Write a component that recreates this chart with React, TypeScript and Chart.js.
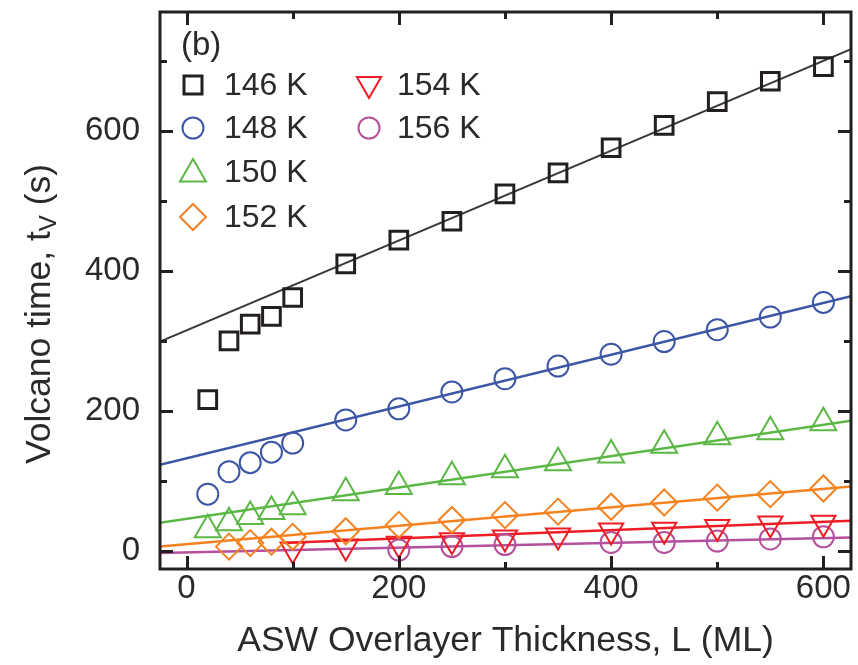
import React, { useEffect, useRef } from 'react';
import { Chart, registerables } from 'chart.js';

Chart.register(...registerables);

// ---- data ----
const thickness146 = [20, 40, 60, 80, 100, 150, 200, 250, 300, 350, 400, 450, 500, 550, 600];
const time146 = [216, 300, 324, 335, 362, 410, 444, 471, 510, 540, 576, 608, 642, 671, 692];

const thickness148 = [20, 40, 60, 80, 100, 150, 200, 250, 300, 350, 400, 450, 500, 550, 600];
const time148 = [81, 113, 126, 141, 154, 187, 203, 227, 246, 264, 281, 299, 316, 334, 355];

const thickness150 = [20, 40, 60, 80, 100, 150, 200, 250, 300, 350, 400, 450, 500, 550, 600];
const time150 = [30, 40, 49, 56, 63, 83, 92, 106, 116, 126, 137, 151, 163, 170, 183];

const thickness152 = [40, 60, 80, 100, 150, 200, 250, 300, 350, 400, 450, 500, 550, 600];
const time152 = [6, 11, 13, 20, 28, 37, 44, 51, 56, 63, 69, 76, 81, 89];

const thickness154 = [100, 150, 200, 250, 300, 350, 400, 450, 500, 550, 600];
const time154 = [2, 6, 10, 15, 19, 22, 29, 30, 34, 39, 40];

const thickness156 = [200, 250, 300, 400, 450, 500, 550, 600];
const time156 = [1, 6, 9, 12, 12, 14, 17, 20];

// linear fit lines: end points
const fitX = [-25, 626];
const fitX154 = [90, 626];
const fit146 = [299, 717];
const fit148 = [123, 364];
const fit150 = [40, 186];
const fit152 = [6, 92];
const fit154 = [11, 43];
const fit156 = [-3, 19];

const seriesLabels = ['146 K', '148 K', '150 K', '152 K', '154 K', '156 K'];
const xTickValues = [0, 100, 200, 300, 400, 500, 600];
const yTickValues = [0, 100, 200, 300, 400, 500, 600, 700];

const C_BLACK = '#231f20';
const C_BLUE = '#3c55a5';
const C_GREEN = '#5cb846';
const C_ORANGE = '#f58220';
const C_RED = '#ee1d25';
const C_MAGENTA = '#b5509c';
const FONT = "'Liberation Sans', Arial, sans-serif";

const pts = (xs: number[], ys: number[]) => xs.map((x, i) => ({ x, y: ys[i] }));

function drawMarker(ctx: CanvasRenderingContext2D, kind: string, x: number, y: number, color: string, lw: number) {
  ctx.save();
  ctx.strokeStyle = color;
  ctx.lineWidth = lw;
  ctx.beginPath();
  if (kind === 'square') {
    const s = 9;
    ctx.rect(x - s, y - s, 2 * s, 2 * s);
  } else if (kind === 'circle') {
    ctx.arc(x, y, 10.5, 0, Math.PI * 2);
  } else if (kind === 'up') {
    const r = 15;
    for (let k = 0; k < 3; k++) {
      const a = (k * 2 * Math.PI) / 3;
      const px = x + Math.sin(a) * r;
      const py = y - Math.cos(a) * r;
      if (k === 0) ctx.moveTo(px, py); else ctx.lineTo(px, py);
    }
    ctx.closePath();
  } else if (kind === 'down') {
    const r = 14;
    for (let k = 0; k < 3; k++) {
      const a = Math.PI + (k * 2 * Math.PI) / 3;
      const px = x + Math.sin(a) * r;
      const py = y - Math.cos(a) * r;
      if (k === 0) ctx.moveTo(px, py); else ctx.lineTo(px, py);
    }
    ctx.closePath();
  } else if (kind === 'diamond') {
    const r = 13;
    ctx.moveTo(x, y - r);
    ctx.lineTo(x + r, y);
    ctx.lineTo(x, y + r);
    ctx.lineTo(x - r, y);
    ctx.closePath();
  }
  ctx.stroke();
  ctx.restore();
}

const decorPlugin = {
  id: 'decor',
  afterDraw(chart: any) {
    const ctx: CanvasRenderingContext2D = chart.ctx;
    const a = chart.chartArea;
    const xs = chart.scales.x;
    const ys = chart.scales.y;
    ctx.save();
    // frame
    ctx.strokeStyle = C_BLACK;
    ctx.lineWidth = 3;
    ctx.strokeRect(a.left, a.top, a.right - a.left, a.bottom - a.top);
    // inward ticks
    ctx.beginPath();
    xTickValues.forEach((v) => {
      const px = Math.round(xs.getPixelForValue(v)) + 0.5;
      const len = v % 200 === 0 ? 13 : 7;
      ctx.moveTo(px, a.bottom);
      ctx.lineTo(px, a.bottom - len);
      ctx.moveTo(px, a.top);
      ctx.lineTo(px, a.top + len);
    });
    yTickValues.forEach((v) => {
      const py = Math.round(ys.getPixelForValue(v)) + 0.5;
      const len = v % 200 === 0 ? 13 : 7;
      ctx.moveTo(a.left, py);
      ctx.lineTo(a.left + len, py);
      ctx.moveTo(a.right, py);
      ctx.lineTo(a.right - len, py);
    });
    ctx.stroke();

    // panel label
    ctx.fillStyle = '#2a2a2a';
    ctx.textBaseline = 'middle';
    ctx.textAlign = 'left';
    ctx.font = `33px ${FONT}`;
    ctx.fillText('(b)', 181, 46);

    // legend
    const col1 = { mx: 193, tx: 224 };
    const col2 = { mx: 369, tx: 397 };
    const rows = [85, 128, 172, 217];
    const entries = [
      { kind: 'square', color: C_BLACK, lw: 3, col: col1, row: 0 },
      { kind: 'circle', color: C_BLUE, lw: 2, col: col1, row: 1 },
      { kind: 'up', color: C_GREEN, lw: 2, col: col1, row: 2 },
      { kind: 'diamond', color: C_ORANGE, lw: 2, col: col1, row: 3 },
      { kind: 'down', color: C_RED, lw: 2, col: col2, row: 0 },
      { kind: 'circle', color: C_MAGENTA, lw: 2, col: col2, row: 1 },
    ];
    ctx.font = `32px ${FONT}`;
    entries.forEach((e, i) => {
      const y = rows[e.row];
      drawMarker(ctx, e.kind, e.col.mx, e.kind === 'up' ? y + 2 : e.kind === 'down' ? y - 1 : y, e.color, e.lw);
      ctx.fillStyle = '#2a2a2a';
      ctx.fillText(seriesLabels[i], e.col.tx, y + 1);
    });

    // x title
    ctx.textAlign = 'center';
    ctx.font = `35.5px ${FONT}`;
    ctx.fillText('ASW Overlayer Thickness, L (ML)', (a.left + a.right) / 2, 641);

    // y title with subscript
    ctx.translate(40, 314);
    ctx.rotate(-Math.PI / 2);
    ctx.textAlign = 'left';
    const main = 'Volcano time, t';
    const sub = 'V';
    const tail = ' (s)';
    ctx.font = `35.5px ${FONT}`;
    const wMain = ctx.measureText(main).width;
    const wTail = ctx.measureText(tail).width;
    ctx.font = `24px ${FONT}`;
    const wSub = ctx.measureText(sub).width;
    const total = wMain + wSub + wTail;
    let x0 = -total / 2;
    ctx.font = `35.5px ${FONT}`;
    ctx.fillText(main, x0, 0);
    x0 += wMain;
    ctx.font = `24px ${FONT}`;
    ctx.fillText(sub, x0, 9);
    x0 += wSub;
    ctx.font = `35.5px ${FONT}`;
    ctx.fillText(tail, x0, 0);
    ctx.restore();
  },
};

function scatterSet(label: string, xs: number[], ys: number[], color: string, style: any, radius: number, bw: number, rotation = 0) {
  return {
    label,
    data: pts(xs, ys),
    showLine: false,
    borderColor: color,
    backgroundColor: 'rgba(0,0,0,0)',
    pointStyle: style,
    pointRadius: radius,
    pointBorderWidth: bw,
    pointRotation: rotation,
    pointBorderColor: color,
    pointBackgroundColor: 'rgba(0,0,0,0)',
    order: 1,
  };
}

function fitSet(label: string, xs: number[], ys: number[], color: string, width: number) {
  return {
    label,
    data: pts(xs, ys),
    showLine: true,
    borderColor: color,
    borderWidth: width,
    pointRadius: 0,
    fill: false,
    order: 2,
  };
}

const zeroPad = (s: any) => {
  s.paddingLeft = 0;
  s.paddingRight = 0;
  s.paddingTop = 0;
  s.paddingBottom = 0;
};

export default function App() {
  const ref = useRef<HTMLCanvasElement | null>(null);
  useEffect(() => {
    if (!ref.current) return;
    const tickFont = { family: FONT, size: 33 };
    const chart = new Chart(ref.current, {
      type: 'scatter',
      data: {
        datasets: [
          fitSet('fit 146 K', fitX, fit146, '#3a3a3a', 2),
          fitSet('fit 148 K', fitX, fit148, C_BLUE, 2.5),
          fitSet('fit 150 K', fitX, fit150, C_GREEN, 2.5),
          fitSet('fit 152 K', fitX, fit152, C_ORANGE, 2.5),
          fitSet('fit 154 K', fitX154, fit154, C_RED, 2.5),
          fitSet('fit 156 K', fitX, fit156, C_MAGENTA, 2.5),
          scatterSet(seriesLabels[0], thickness146, time146, C_BLACK, 'rect', 12.5, 3),
          scatterSet(seriesLabels[1], thickness148, time148, C_BLUE, 'circle', 10.5, 2),
          scatterSet(seriesLabels[2], thickness150, time150, C_GREEN, 'triangle', 15, 2),
          scatterSet(seriesLabels[3], thickness152, time152, C_ORANGE, 'rectRot', 13, 2),
          scatterSet(seriesLabels[4], thickness154, time154, C_RED, 'triangle', 14, 2, 180),
          scatterSet(seriesLabels[5], thickness156, time156, C_MAGENTA, 'circle', 10.5, 2),
        ],
      },
      options: {
        responsive: false,
        animation: false,
        layout: { autoPadding: false, padding: { top: 12, right: 7, left: 0, bottom: 0 } },
        plugins: {
          legend: { display: false },
          tooltip: { enabled: false },
        },
        scales: {
          x: {
            type: 'linear',
            min: -25,
            max: 626,
            grid: { display: false },
            border: { display: false },
            afterBuildTicks: (s: any) => {
              s.ticks = xTickValues.map((v) => ({ value: v }));
            },
            afterFit: (s: any) => {
              s.height = 96;
              zeroPad(s);
            },
            ticks: {
              font: tickFont,
              color: '#2a2a2a',
              padding: -8,
              maxRotation: 0,
              autoSkip: false,
              callback: (v: any) => (Number(v) % 200 === 0 ? String(v) : ''),
            },
          },
          y: {
            type: 'linear',
            min: -26,
            max: 770,
            grid: { display: false },
            border: { display: false },
            afterBuildTicks: (s: any) => {
              s.ticks = yTickValues.map((v) => ({ value: v }));
            },
            afterFit: (s: any) => {
              s.width = 160;
              zeroPad(s);
            },
            ticks: {
              font: tickFont,
              color: '#2a2a2a',
              padding: 12,
              autoSkip: false,
              callback: (v: any) => (Number(v) % 200 === 0 ? String(v) : ''),
            },
          },
        },
      },
      plugins: [decorPlugin],
    } as any);
    return () => chart.destroy();
  }, []);

  return (
    <div style={{ position: 'fixed', left: 0, top: 0, width: 858, height: 665, background: '#fff' }}>
      <canvas ref={ref} width={858} height={665} style={{ display: 'block', width: 858, height: 665 }} />
    </div>
  );
}
